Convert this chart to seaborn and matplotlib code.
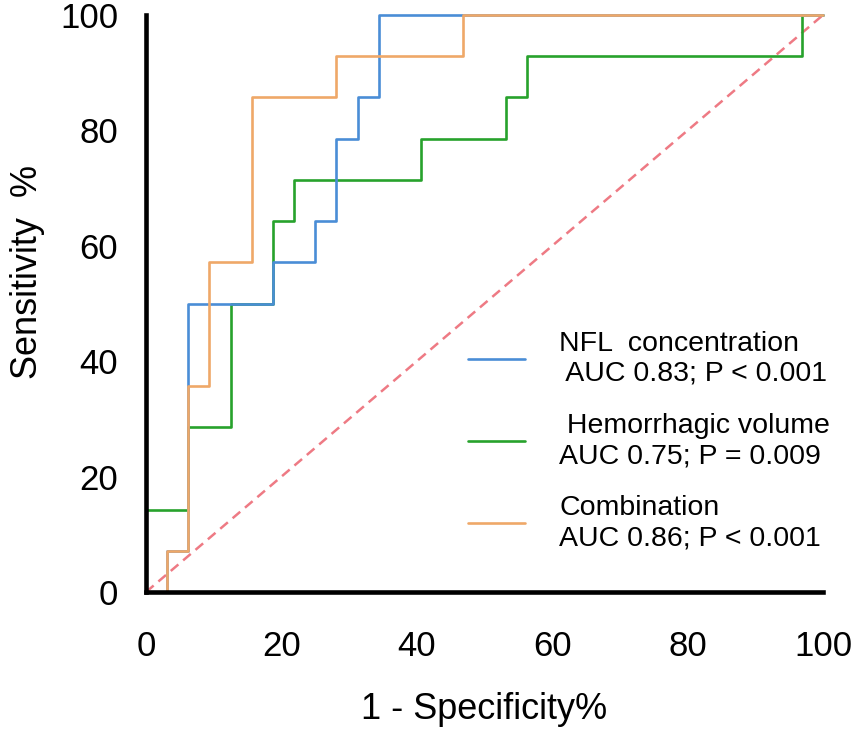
import pandas as pd
import matplotlib
matplotlib.use("Agg")
import matplotlib.pyplot as plt
import seaborn as sns

# ROC corner points (1 - specificity %, sensitivity %)
nfl_fpr = [0, 3.125, 6.25, 18.75, 25, 28.125, 31.25, 34.375, 100]
nfl_tpr = [0, 7.14, 50, 57.14, 64.29, 78.57, 85.71, 100, 100]

vol_fpr = [0, 0, 6.25, 12.5, 18.75, 21.875, 40.625, 53.125, 56.25, 96.875, 100]
vol_tpr = [0, 14.29, 28.57, 50, 64.29, 71.43, 78.57, 85.71, 92.86, 100, 100]

comb_fpr = [0, 3.125, 6.25, 9.375, 15.625, 28.125, 46.875, 100]
comb_tpr = [0, 7.14, 35.71, 57.14, 85.71, 92.86, 100, 100]

ref_x = [0, 100]
ref_y = [0, 100]

labels = ["NFL  concentration\n AUC 0.83; P < 0.001",
          " Hemorrhagic volume\nAUC 0.75; P = 0.009",
          "Combination\nAUC 0.86; P < 0.001"]
colors = {"nfl": "#4a8dd6", "vol": "#27a22c", "comb": "#efa868", "ref": "#ee7a84"}

sns.set_style("white")
plt.rcParams["font.family"] = ["Liberation Sans", "DejaVu Sans"]

fig = plt.figure(figsize=(8.53, 7.29), dpi=100)
ax = fig.add_axes([0.1712, 0.1879, 0.7936, 0.7915])

sns.lineplot(x=ref_x, y=ref_y, ax=ax, color=colors["ref"], lw=1.8,
             linestyle=(0, (4, 2.5)), estimator=None, sort=False, zorder=1)
sns.lineplot(x=vol_fpr, y=vol_tpr, ax=ax, color=colors["vol"], lw=1.9,
             drawstyle="steps-post", estimator=None, sort=False, zorder=2, clip_on=False)
sns.lineplot(x=nfl_fpr, y=nfl_tpr, ax=ax, color=colors["nfl"], lw=1.9,
             drawstyle="steps-post", estimator=None, sort=False, zorder=3, clip_on=False)
sns.lineplot(x=comb_fpr, y=comb_tpr, ax=ax, color=colors["comb"], lw=1.9,
             drawstyle="steps-post", estimator=None, sort=False, zorder=4, clip_on=False)

ax.set_xlim(0, 100)
ax.set_ylim(0, 100)
ax.set_xticks(range(0, 101, 20))
ax.set_yticks(range(0, 101, 20))
for s in ["top", "right"]:
    ax.spines[s].set_visible(False)
for s in ["left", "bottom"]:
    ax.spines[s].set_linewidth(3.3)
    ax.spines[s].set_color("black")
    ax.spines[s].set_zorder(5)
ax.tick_params(axis="both", which="major", direction="out", length=15, width=3.3,
               color="black", labelsize=25, labelcolor="black")
ax.tick_params(axis="x", pad=12)
ax.tick_params(axis="y", pad=5)
ax.set_xlabel("1 - Specificity%", fontsize=26, color="black")
ax.set_ylabel("Sensitivity  %", fontsize=26, color="black")
ax.xaxis.set_label_coords(0.5, -0.174)
ax.yaxis.set_label_coords(-0.149, 0.555)

lines = [ax.lines[2], ax.lines[1], ax.lines[3]]
leg = ax.legend(lines, labels, loc="upper left", bbox_to_anchor=(468 / 853, 1 - 331 / 729),
                bbox_transform=fig.transFigure, frameon=False, fontsize=20.5,
                handlelength=2.0, handletextpad=1.2, labelspacing=0.92,
                borderpad=0, borderaxespad=0)
for t in leg.get_texts():
    t.set_color("black")

fig.savefig("out.png", dpi=100)
